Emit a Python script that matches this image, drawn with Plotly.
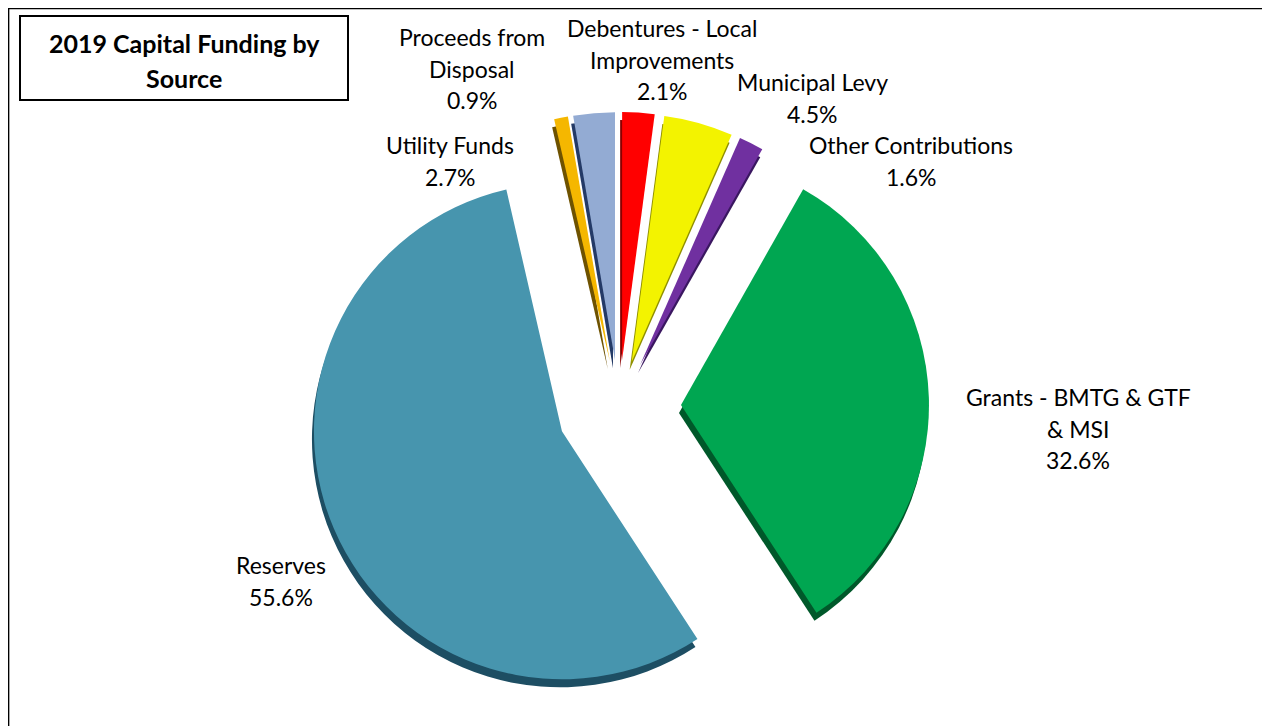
import plotly.graph_objects as go

# ---- data ----
categories = ["Debentures - Local Improvements", "Municipal Levy", "Other Contributions",
              "Grants - BMTG & GTF & MSI", "Reserves", "Proceeds from Disposal", "Utility Funds"]
values = [2.1, 4.5, 1.6, 32.6, 55.6, 0.9, 2.7]
label_text = ["Debentures - Local<br>Improvements", "Municipal Levy", "Other Contributions",
              "Grants - BMTG & GTF<br>& MSI", "Reserves", "Proceeds from<br>Disposal", "Utility Funds"]
title_text = "2019 Capital Funding by<br>Source"

# ---- style ----
colors = ["#FF0000", "#F3F300", "#7030A0", "#00A651", "#4795AE", "#F5B700", "#93ABD3"]
side_colors = ["#8A0000", "#8F8F00", "#3A1760", "#00582A", "#1D4E63", "#6E5200", "#243A66"]
# label anchor (center x, first-line center y) in screen pixels
label_pos = [(662, 28), (812, 82), (911, 145), (1078, 397), (281, 565), (472, 37), (450, 145)]
LINE_H = 31.5
FONT = "Lato, Calibri, Carlito, sans-serif"

OFF = 8                      # page body margin
W, H = 1270 - OFF, 726 - OFF  # figure size

def fx(sx):
    return (sx - OFF) / W

def fy(sy):
    return 1 - (sy - OFF) / H

cx, cy, R = 619, 407, 248     # screen px
big_pull, small_pull = 62 / R, 47 / R
pulls = [small_pull, small_pull, small_pull, big_pull, big_pull, small_pull, small_pull]
half = R * (1 + max(pulls))

def dom(dx=0, dy=0):
    return dict(x=[fx(cx - half + dx), fx(cx + half + dx)],
                y=[max(fy(cy + half + dy), 0), fy(cy - half + dy)])

fig = go.Figure()
# 3D side (darker copy, offset down)
fig.add_trace(go.Pie(labels=categories, values=values, sort=False, direction="clockwise",
                     rotation=0, pull=pulls, textinfo="none", hoverinfo="skip",
                     marker=dict(colors=side_colors, line=dict(width=0)),
                     domain=dom(-2, 8), showlegend=False))
fig.add_trace(go.Pie(labels=categories, values=values, sort=False, direction="clockwise",
                     rotation=0, pull=pulls, textinfo="none",
                     marker=dict(colors=colors, line=dict(width=0)),
                     domain=dom(), showlegend=False))

annotations = []
for txt, v, (px, py) in zip(label_text, values, label_pos):
    lines = txt.split("<br>") + [f"{v:.1f}%"]
    for i, ln in enumerate(lines):
        annotations.append(dict(x=fx(px), y=fy(py + i * LINE_H), xref="paper", yref="paper",
                                text=ln, showarrow=False, xanchor="center", yanchor="middle",
                                font=dict(family=FONT, size=23, color="#000000")))
for i, ln in enumerate(title_text.split("<br>")):
    annotations.append(dict(x=fx(184), y=fy(43 + i * 35), xref="paper", yref="paper",
                            text=f"<b>{ln}</b>", showarrow=False, xanchor="center", yanchor="middle",
                            font=dict(family=FONT, size=25, color="#000000")))

shapes = [
    dict(type="rect", xref="paper", yref="paper", x0=0.6 / W, x1=fx(1266), y0=-0.05, y1=1 - 0.6 / H,
         line=dict(color="#000000", width=1.5), fillcolor="rgba(0,0,0,0)"),
    dict(type="rect", xref="paper", yref="paper", x0=fx(20), x1=fx(348), y0=fy(100), y1=fy(16),
         line=dict(color="#000000", width=2), fillcolor="rgba(0,0,0,0)"),
]

fig.update_layout(width=W, height=H, margin=dict(l=0, r=0, t=0, b=0),
                  paper_bgcolor="white", plot_bgcolor="white",
                  annotations=annotations, shapes=shapes, showlegend=False)
fig.write_html("out.html")
